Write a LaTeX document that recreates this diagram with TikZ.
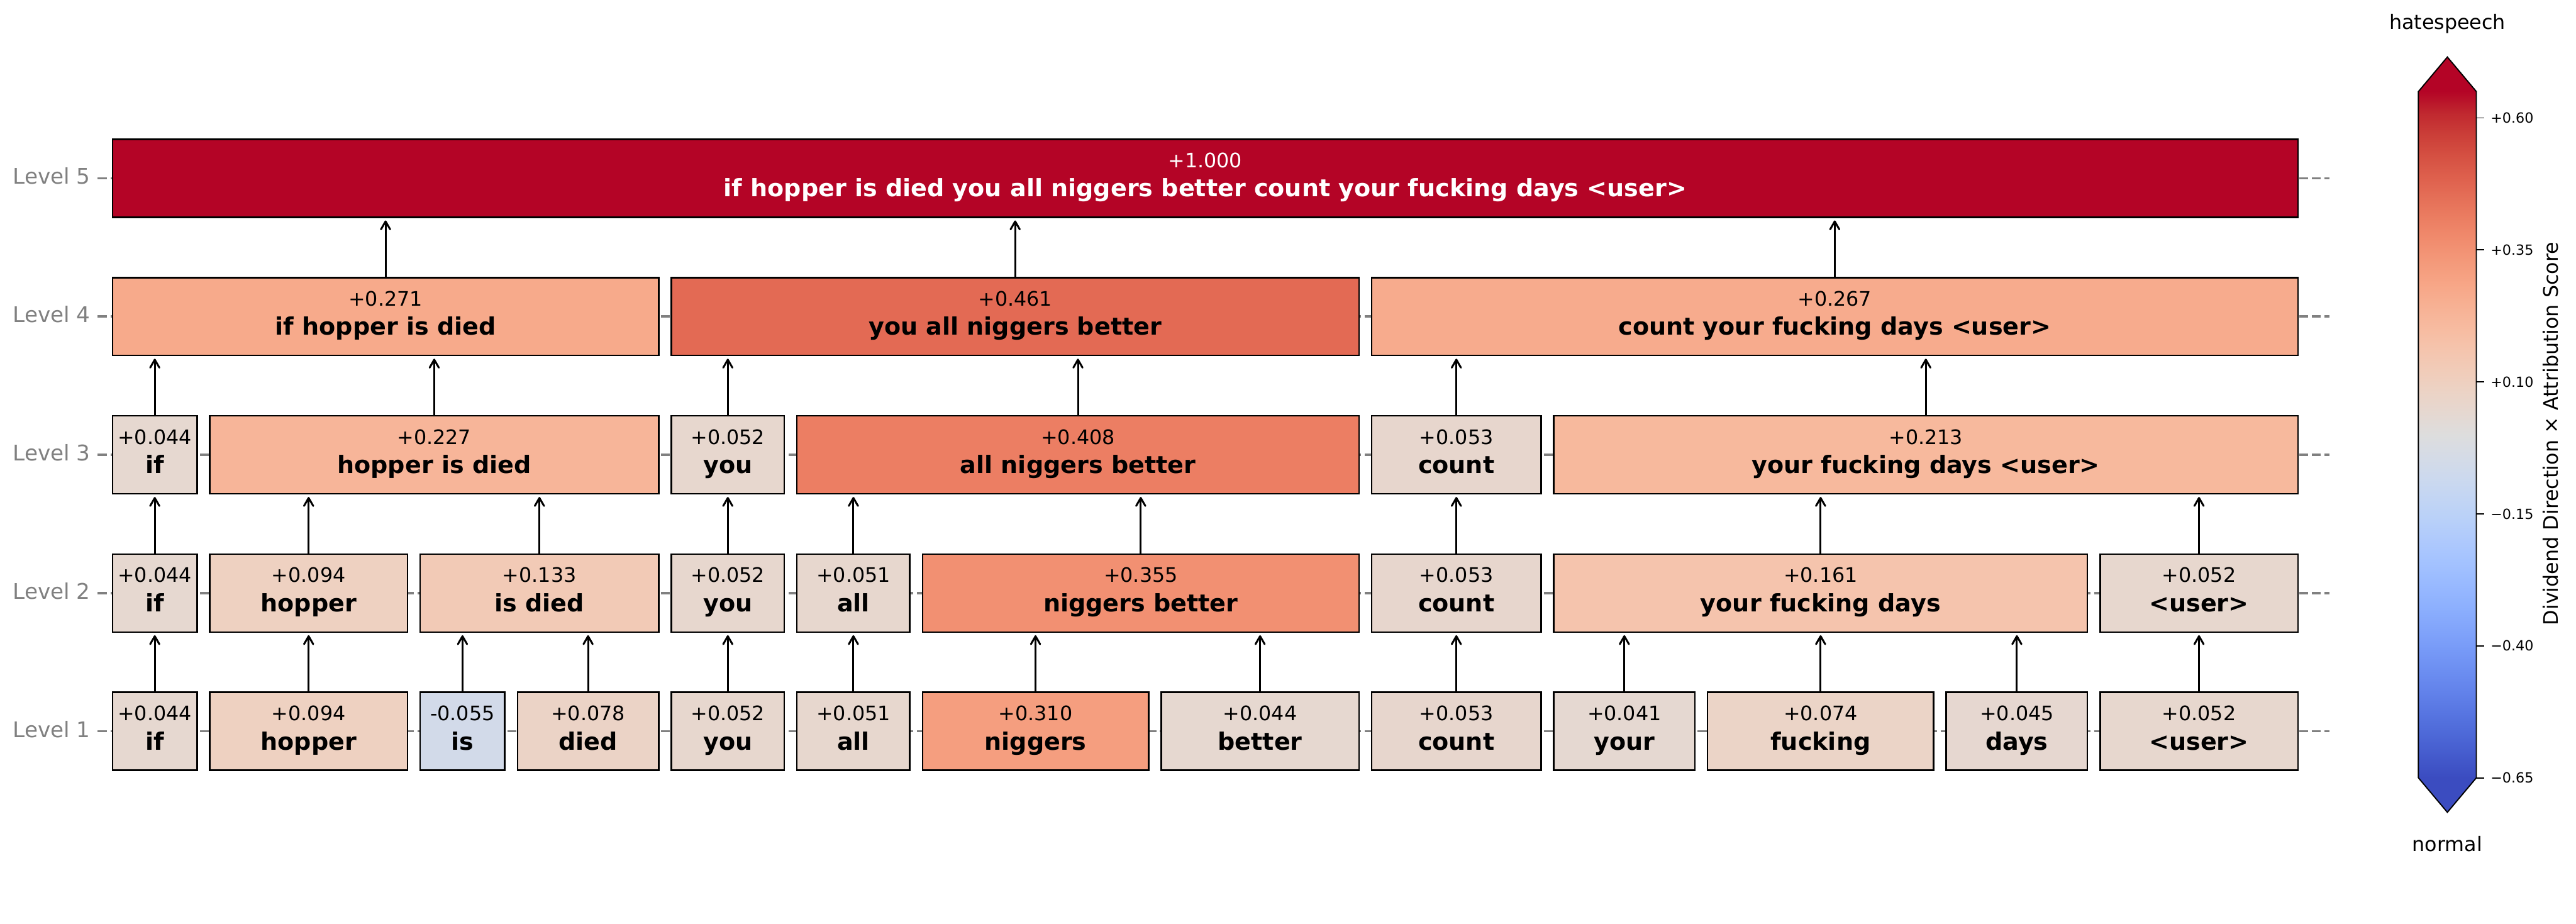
\documentclass[tikz,border=0pt]{standalone}
\usepackage{fontspec}
\setmainfont{DejaVu Sans}
\usetikzlibrary{arrows.meta}

% box colours (coolwarm, range -0.65 .. +0.65)
\definecolor{v041}{RGB}{229,216,209}
\definecolor{v044}{RGB}{230,216,208}
\definecolor{v045}{RGB}{230,215,208}
\definecolor{v051}{RGB}{231,215,206}
\definecolor{v052}{RGB}{231,215,206}
\definecolor{v053}{RGB}{231,214,205}
\definecolor{v074}{RGB}{235,212,199}
\definecolor{v078}{RGB}{235,211,198}
\definecolor{v094}{RGB}{238,209,193}
\definecolor{v133}{RGB}{242,202,182}
\definecolor{v161}{RGB}{245,196,173}
\definecolor{v213}{RGB}{247,185,157}
\definecolor{v227}{RGB}{247,181,153}
\definecolor{v267}{RGB}{247,171,141}
\definecolor{v271}{RGB}{247,170,139}
\definecolor{v310}{RGB}{245,158,127}
\definecolor{v355}{RGB}{242,144,114}
\definecolor{v408}{RGB}{236,126,99}
\definecolor{v461}{RGB}{227,106,84}
\definecolor{vm055}{RGB}{210,218,233}
\definecolor{v1000}{RGB}{180,4,38}
\definecolor{vmin}{RGB}{59,76,192}

\pgfdeclareverticalshading{coolwarm}{100bp}{rgb(0bp)=(0.231,0.298,0.753);
 rgb(25bp)=(0.231,0.298,0.753); rgb(26.5625bp)=(0.267,0.353,0.800);
 rgb(28.125bp)=(0.302,0.408,0.843); rgb(29.6875bp)=(0.341,0.459,0.882);
 rgb(31.25bp)=(0.384,0.510,0.918); rgb(32.8125bp)=(0.424,0.557,0.945);
 rgb(34.375bp)=(0.467,0.604,0.969); rgb(35.9375bp)=(0.510,0.647,0.984);
 rgb(37.5bp)=(0.553,0.690,0.996); rgb(39.0625bp)=(0.596,0.725,1);
 rgb(40.625bp)=(0.639,0.761,1); rgb(42.1875bp)=(0.682,0.788,0.992);
 rgb(43.75bp)=(0.722,0.816,0.976); rgb(45.3125bp)=(0.761,0.835,0.957);
 rgb(46.875bp)=(0.800,0.851,0.933); rgb(48.4375bp)=(0.835,0.859,0.902);
 rgb(50bp)=(0.867,0.867,0.867); rgb(51.5625bp)=(0.898,0.847,0.820);
 rgb(53.125bp)=(0.925,0.827,0.773); rgb(54.6875bp)=(0.945,0.800,0.725);
 rgb(56.25bp)=(0.961,0.769,0.678); rgb(57.8125bp)=(0.969,0.733,0.627);
 rgb(59.375bp)=(0.969,0.694,0.580); rgb(60.9375bp)=(0.969,0.651,0.529);
 rgb(62.5bp)=(0.957,0.604,0.482); rgb(64.0625bp)=(0.945,0.553,0.435);
 rgb(65.625bp)=(0.925,0.498,0.388); rgb(67.1875bp)=(0.898,0.439,0.345);
 rgb(68.75bp)=(0.871,0.376,0.302); rgb(70.3125bp)=(0.835,0.314,0.259);
 rgb(71.875bp)=(0.796,0.243,0.220); rgb(73.4375bp)=(0.753,0.157,0.184);
 rgb(75bp)=(0.706,0.016,0.149); rgb(100bp)=(0.706,0.016,0.149)}

\tikzset{
  tok/.style={draw=black, line width=0.8pt, inner sep=0pt, minimum height=39.04pt, minimum width=#1},
  val/.style={text height=7.6pt, text depth=0pt, yshift=9.15pt, inner sep=0pt, font=\fontsize{10}{12}\selectfont},
  wrd/.style={text height=9pt, text depth=0pt, yshift=-4.75pt, inner sep=0pt, font=\fontsize{12}{14}\selectfont\bfseries},
  arr/.style={-{Straight Barb[length=4pt,width=4.6pt,round]}, line width=0.95pt, shorten >=1.2pt},
  grid/.style={draw=gray, line width=1.1pt, dash pattern=on 4.56pt off 1.85pt},
  lev/.style={anchor=base east, inner sep=0pt, text=gray, font=\fontsize{10.8}{13}\selectfont},
  cbtick/.style={anchor=base west, inner sep=0pt, font=\fontsize{7}{8}\selectfont},
  cbtxt/.style={anchor=base, inner sep=0pt, font=\fontsize{10}{12}\selectfont}
}

\begin{document}
\begin{tikzpicture}[x=1pt,y=-1pt]
\useasboundingbox (0,0) rectangle (1290.24,462.48);

% level grid
\draw[grid] (48.96,366.24) -- (1166.64,366.24);
\draw[grid] (48.96,297.00) -- (1166.64,297.00);
\draw[grid] (48.96,227.76) -- (1166.64,227.76);
\draw[grid] (48.96,158.52) -- (1166.64,158.52);
\draw[grid] (48.96,89.28) -- (1166.64,89.28);
\node[lev] (lev1) at (45.5,369.24) {Level 1};
\node[lev] (lev2) at (45.5,300.00) {Level 2};
\node[lev] (lev3) at (45.5,230.76) {Level 3};
\node[lev] (lev4) at (45.5,161.52) {Level 4};
\node[lev] (lev5) at (45.5,92.28) {Level 5};

% level 1
\node[tok=42.4pt, fill=v044, label={[val]center:+0.044}, label={[wrd]center:if}] (l1a) at (77.52,366.24) {};
\node[tok=99.04pt, fill=v094, label={[val]center:+0.094}, label={[wrd]center:hopper}] (l1b) at (154.58,366.24) {};
\node[tok=42.4pt, fill=vm055, label={[val]center:-0.055}, label={[wrd]center:is}] (l1c) at (231.65,366.24) {};
\node[tok=70.72pt, fill=v078, label={[val]center:+0.078}, label={[wrd]center:died}] (l1d) at (294.55,366.24) {};
\node[tok=56.56pt, fill=v052, label={[val]center:+0.052}, label={[wrd]center:you}] (l1e) at (364.54,366.24) {};
\node[tok=56.56pt, fill=v051, label={[val]center:+0.051}, label={[wrd]center:all}] (l1f) at (427.44,366.24) {};
\node[tok=113.2pt, fill=v310, label={[val]center:+0.310}, label={[wrd]center:niggers}] (l1g) at (518.66,366.24) {};
\node[tok=99.04pt, fill=v044, label={[val]center:+0.044}, label={[wrd]center:better}] (l1h) at (631.13,366.24) {};
\node[tok=84.88pt, fill=v053, label={[val]center:+0.053}, label={[wrd]center:count}] (l1i) at (729.43,366.24) {};
\node[tok=70.72pt, fill=v041, label={[val]center:+0.041}, label={[wrd]center:your}] (l1j) at (813.58,366.24) {};
\node[tok=113.2pt, fill=v074, label={[val]center:+0.074}, label={[wrd]center:fucking}] (l1k) at (911.88,366.24) {};
\node[tok=70.72pt, fill=v045, label={[val]center:+0.045}, label={[wrd]center:days}] (l1l) at (1010.18,366.24) {};
\node[tok=99.04pt, fill=v052, label={[val]center:+0.052}, label={[wrd]center:<user>}] (l1m) at (1101.41,366.24) {};

% level 2
\node[tok=42.4pt, fill=v044, label={[val]center:+0.044}, label={[wrd]center:if}] (l2a) at (77.52,297.00) {};
\node[tok=99.04pt, fill=v094, label={[val]center:+0.094}, label={[wrd]center:hopper}] (l2b) at (154.58,297.00) {};
\node[tok=119.46pt, fill=v133, label={[val]center:+0.133}, label={[wrd]center:is died}] (l2c) at (270.18,297.00) {};
\node[tok=56.56pt, fill=v052, label={[val]center:+0.052}, label={[wrd]center:you}] (l2d) at (364.54,297.00) {};
\node[tok=56.56pt, fill=v051, label={[val]center:+0.051}, label={[wrd]center:all}] (l2e) at (427.44,297.00) {};
\node[tok=218.59pt, fill=v355, label={[val]center:+0.355}, label={[wrd]center:niggers better}] (l2f) at (571.36,297.00) {};
\node[tok=84.88pt, fill=v053, label={[val]center:+0.053}, label={[wrd]center:count}] (l2g) at (729.43,297.00) {};
\node[tok=267.32pt, fill=v161, label={[val]center:+0.161}, label={[wrd]center:your fucking days}] (l2h) at (911.88,297.00) {};
\node[tok=99.04pt, fill=v052, label={[val]center:+0.052}, label={[wrd]center:<user>}] (l2i) at (1101.41,297.00) {};

% level 3
\node[tok=42.4pt, fill=v044, label={[val]center:+0.044}, label={[wrd]center:if}] (l3a) at (77.52,227.76) {};
\node[tok=224.85pt, fill=v227, label={[val]center:+0.227}, label={[wrd]center:hopper is died}] (l3b) at (217.49,227.76) {};
\node[tok=56.56pt, fill=v052, label={[val]center:+0.052}, label={[wrd]center:you}] (l3c) at (364.54,227.76) {};
\node[tok=281.49pt, fill=v408, label={[val]center:+0.408}, label={[wrd]center:all niggers better}] (l3d) at (539.91,227.76) {};
\node[tok=84.88pt, fill=v053, label={[val]center:+0.053}, label={[wrd]center:count}] (l3e) at (729.43,227.76) {};
\node[tok=372.71pt, fill=v213, label={[val]center:+0.213}, label={[wrd]center:your fucking days <user>}] (l3f) at (964.58,227.76) {};

% level 4
\node[tok=273.59pt, fill=v271, label={[val]center:+0.271}, label={[wrd]center:if hopper is died}] (l4a) at (193.12,158.52) {};
\node[tok=344.39pt, fill=v461, label={[val]center:+0.461}, label={[wrd]center:you all niggers better}] (l4b) at (508.46,158.52) {};
\node[tok=463.94pt, fill=v267, label={[val]center:+0.267}, label={[wrd]center:count your fucking days <user>}] (l4c) at (918.96,158.52) {};

% level 5
\node[tok=1094.61pt, fill=v1000, label={[val,text=white]center:+1.000},
  label={[wrd,text=white]center:if hopper is died you all niggers better count your fucking days <user>}] (l5a) at (603.63,89.28) {};

% merges 1 -> 2
\draw[arr] (l1a.north) -- (l1a.north |- l2a.south);
\draw[arr] (l1b.north) -- (l1b.north |- l2b.south);
\draw[arr] (l1c.north) -- (l1c.north |- l2c.south);
\draw[arr] (l1d.north) -- (l1d.north |- l2c.south);
\draw[arr] (l1e.north) -- (l1e.north |- l2d.south);
\draw[arr] (l1f.north) -- (l1f.north |- l2e.south);
\draw[arr] (l1g.north) -- (l1g.north |- l2f.south);
\draw[arr] (l1h.north) -- (l1h.north |- l2f.south);
\draw[arr] (l1i.north) -- (l1i.north |- l2g.south);
\draw[arr] (l1j.north) -- (l1j.north |- l2h.south);
\draw[arr] (l1k.north) -- (l1k.north |- l2h.south);
\draw[arr] (l1l.north) -- (l1l.north |- l2h.south);
\draw[arr] (l1m.north) -- (l1m.north |- l2i.south);
% merges 2 -> 3
\draw[arr] (l2a.north) -- (l2a.north |- l3a.south);
\draw[arr] (l2b.north) -- (l2b.north |- l3b.south);
\draw[arr] (l2c.north) -- (l2c.north |- l3b.south);
\draw[arr] (l2d.north) -- (l2d.north |- l3c.south);
\draw[arr] (l2e.north) -- (l2e.north |- l3d.south);
\draw[arr] (l2f.north) -- (l2f.north |- l3d.south);
\draw[arr] (l2g.north) -- (l2g.north |- l3e.south);
\draw[arr] (l2h.north) -- (l2h.north |- l3f.south);
\draw[arr] (l2i.north) -- (l2i.north |- l3f.south);
% merges 3 -> 4
\draw[arr] (l3a.north) -- (l3a.north |- l4a.south);
\draw[arr] (l3b.north) -- (l3b.north |- l4a.south);
\draw[arr] (l3c.north) -- (l3c.north |- l4b.south);
\draw[arr] (l3d.north) -- (l3d.north |- l4b.south);
\draw[arr] (l3e.north) -- (l3e.north |- l4c.south);
\draw[arr] (l3f.north) -- (l3f.north |- l4c.south);
% merges 4 -> 5
\draw[arr] (l4a.north) -- (l4a.north |- l5a.south);
\draw[arr] (l4b.north) -- (l4b.north |- l5a.south);
\draw[arr] (l4c.north) -- (l4c.north |- l5a.south);

% colour bar
\fill[v1000] (1211.3,45.84) -- (1225.8,28.56) -- (1240.3,45.84) -- cycle;
\fill[vmin] (1211.3,389.52) -- (1225.8,406.8) -- (1240.3,389.52) -- cycle;
\shade[shading=coolwarm] (1211.3,45.84) rectangle (1240.3,389.52);
\draw[line width=0.6pt] (1211.3,45.84) -- (1225.8,28.56) -- (1240.3,45.84) -- (1240.3,389.52)
  -- (1225.8,406.8) -- (1211.3,389.52) -- cycle;
\draw[line width=0.6pt] (1240.3,59.06) -- (1244.2,59.06);
\draw[line width=0.6pt] (1240.3,125.15) -- (1244.2,125.15);
\draw[line width=0.6pt] (1240.3,191.24) -- (1244.2,191.24);
\draw[line width=0.6pt] (1240.3,257.34) -- (1244.2,257.34);
\draw[line width=0.6pt] (1240.3,323.43) -- (1244.2,323.43);
\draw[line width=0.6pt] (1240.3,389.52) -- (1244.2,389.52);
\node[cbtick] (tk1) at (1247.3,61.61) {+0.60};
\node[cbtick] (tk2) at (1247.3,127.70) {+0.35};
\node[cbtick] (tk3) at (1247.3,193.79) {+0.10};
\node[cbtick] (tk4) at (1247.3,259.89) {−0.15};
\node[cbtick] (tk5) at (1247.3,325.98) {−0.40};
\node[cbtick] (tk6) at (1247.3,392.07) {−0.65};
\node[cbtxt] (hate) at (1225.8,14.8) {hatespeech};
\node[cbtxt] (norm) at (1225.8,426.2) {normal};
\node[cbtxt, rotate=90] (cblab) at (1281.1,217.2) {Dividend Direction × Attribution Score};
\end{tikzpicture}
\end{document}
